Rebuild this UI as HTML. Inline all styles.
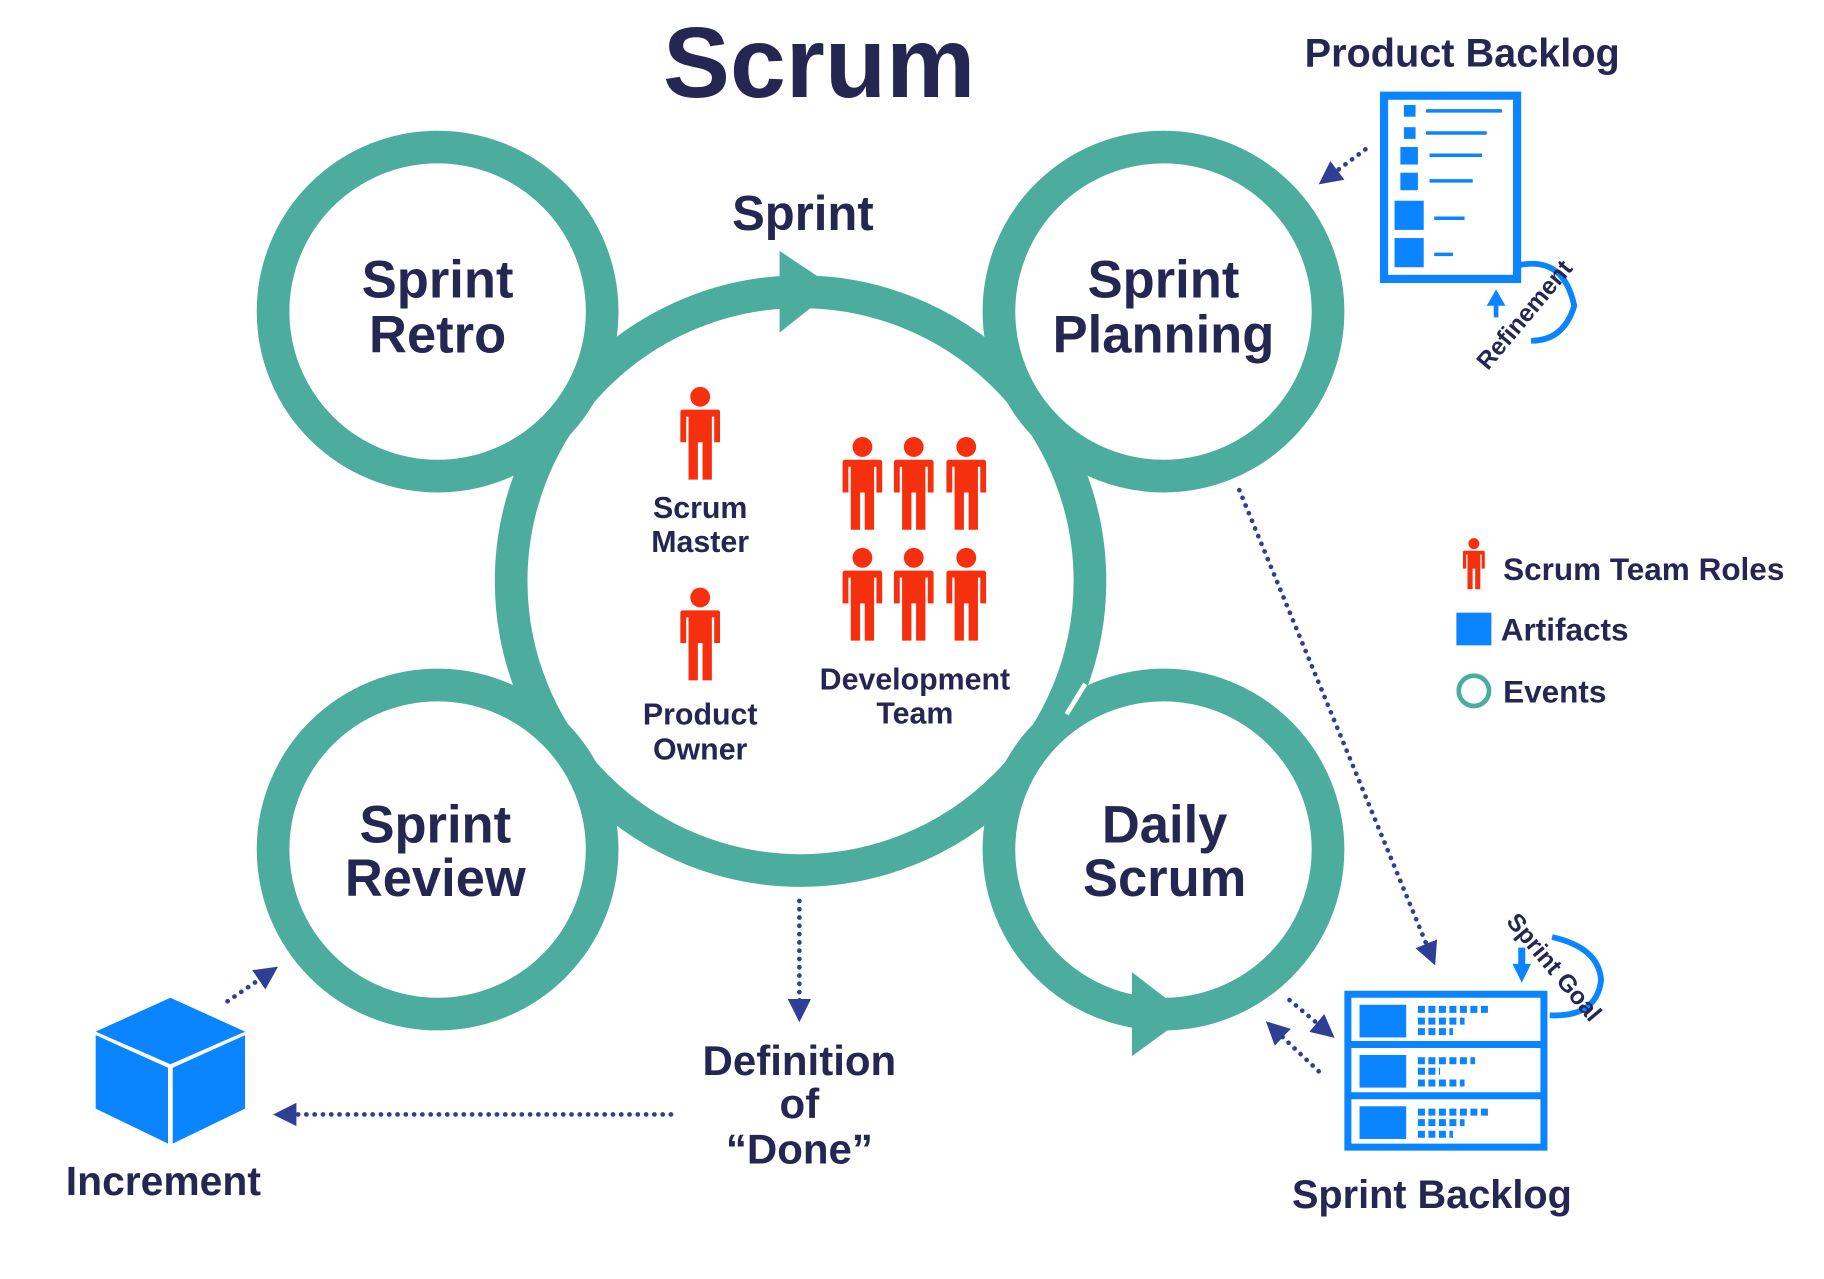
<!DOCTYPE html>
<html><head><meta charset="utf-8"><style>
html,body{margin:0;padding:0;background:#fff;width:1824px;height:1279px;overflow:hidden}
svg{display:block}
text{font-family:"Liberation Sans",sans-serif;font-weight:bold;fill:#262652}
</style></head><body>
<svg width="1824" height="1279" viewBox="0 0 1563 1096" preserveAspectRatio="none" xmlns="http://www.w3.org/2000/svg">
<defs>
<g id="p">
<circle cx="0" cy="-33" r="8.5" fill="#f5300f"/>
<path d="M-15,-22 h30 a2,2 0 0 1 2,2 v26 h-5 v-22 h-2 v54 h-8 v-32 h-4 v32 h-8 v-54 h-2 v22 h-5 v-26 a2,2 0 0 1 2,-2z" fill="#f5300f"/>
</g>
<marker id="ah" viewBox="0 0 10 10" refX="5" refY="5" markerWidth="5" markerHeight="5" orient="auto"><path d="M0,0 L10,5 L0,10z" fill="#2f3f95"/></marker>
</defs>
<!-- central ring -->
<circle cx="686" cy="498" r="248" fill="#fff" stroke="#4cad9e" stroke-width="28"/>
<path d="M668,215 L716,247 L668,285z" fill="#4cad9e"/>
<!-- small rings -->
<circle cx="375" cy="267" r="141" fill="#fff" stroke="#4cad9e" stroke-width="28"/>
<circle cx="997" cy="267" r="141" fill="#fff" stroke="#4cad9e" stroke-width="28"/>
<circle cx="375" cy="728" r="141" fill="#fff" stroke="#4cad9e" stroke-width="28"/>
<circle cx="997" cy="728" r="141" fill="#fff" stroke="#4cad9e" stroke-width="28"/>
<line x1="914" y1="612" x2="930" y2="586" stroke="#fff" stroke-width="4"/>
<path d="M970,833 L1018,870 L970,905z" fill="#4cad9e"/>
<!-- titles -->
<text x="702" y="83" font-size="86" text-anchor="middle">Scrum</text>
<text x="688" y="197" font-size="42" text-anchor="middle">Sprint</text>
<text x="375" y="255" font-size="45" text-anchor="middle">Sprint</text>
<text x="375" y="302" font-size="45" text-anchor="middle">Retro</text>
<text x="997" y="255" font-size="45" text-anchor="middle">Sprint</text>
<text x="997" y="302" font-size="45" text-anchor="middle">Planning</text>
<text x="373" y="722" font-size="45" text-anchor="middle">Sprint</text>
<text x="373" y="768" font-size="45" text-anchor="middle">Review</text>
<text x="998" y="722" font-size="45" text-anchor="middle">Daily</text>
<text x="998" y="768" font-size="45" text-anchor="middle">Scrum</text>
<!-- people -->
<use href="#p" x="600" y="373"/>
<use href="#p" x="600" y="545"/>
<use href="#p" x="739" y="416"/><use href="#p" x="783" y="416"/><use href="#p" x="828" y="416"/>
<use href="#p" x="739" y="511"/><use href="#p" x="783" y="511"/><use href="#p" x="828" y="511"/>
<g font-size="26" text-anchor="middle">
<text x="600" y="444">Scrum</text><text x="600" y="473">Master</text>
<text x="600" y="621">Product</text><text x="600" y="651">Owner</text>
<text x="784" y="591">Development</text><text x="784" y="620">Team</text>
</g>
<!-- product backlog -->
<text x="1253" y="57" font-size="34" text-anchor="middle">Product Backlog</text>
<rect x="1186" y="82" width="114" height="157" fill="#fff" stroke="#0a84ff" stroke-width="7"/>
<g fill="#0a84ff">
<rect x="1203" y="90" width="10" height="10"/><rect x="1203" y="109" width="10" height="10"/>
<rect x="1200" y="126" width="15" height="15"/><rect x="1200" y="148" width="15" height="15"/>
<rect x="1195" y="172" width="25" height="25"/><rect x="1195" y="204" width="25" height="25"/>
</g>
<g stroke="#0a84ff" stroke-width="3">
<line x1="1222" y1="95" x2="1287" y2="95"/><line x1="1222" y1="114" x2="1274" y2="114"/>
<line x1="1225" y1="133" x2="1270" y2="133"/><line x1="1225" y1="155" x2="1262" y2="155"/>
<line x1="1229" y1="187" x2="1255" y2="187"/><line x1="1229" y1="218" x2="1245" y2="218"/>
</g>
<path d="M1303,227 Q1340,220 1349,262 Q1340,292 1312,292" fill="none" stroke="#0a84ff" stroke-width="5"/>
<path d="M1274,262 L1282,248 L1290,262z M1280,260 h4 v12 h-4z" fill="#0a84ff"/>
<text x="0" y="0" font-size="21" transform="translate(1275,318) rotate(-50)">Refinement</text>
<!-- sprint backlog -->
<rect x="1155" y="852" width="168" height="131" fill="#fff" stroke="#0a84ff" stroke-width="6"/>
<line x1="1155" y1="895" x2="1323" y2="895" stroke="#0a84ff" stroke-width="6"/>
<line x1="1155" y1="939" x2="1323" y2="939" stroke="#0a84ff" stroke-width="6"/>
<g fill="#0a84ff">
<rect x="1165" y="861" width="40" height="28"/><rect x="1165" y="904" width="40" height="28"/><rect x="1165" y="948" width="40" height="28"/>
</g>
<g stroke="#0a84ff" stroke-width="6" stroke-dasharray="6,3">
<line x1="1215" y1="865" x2="1276" y2="865"/><line x1="1215" y1="875" x2="1255" y2="875"/><line x1="1215" y1="884" x2="1245" y2="884"/>
<line x1="1215" y1="909" x2="1264" y2="909"/><line x1="1215" y1="918" x2="1234" y2="918"/><line x1="1215" y1="928" x2="1255" y2="928"/>
<line x1="1215" y1="953" x2="1276" y2="953"/><line x1="1215" y1="962" x2="1255" y2="962"/><line x1="1215" y1="972" x2="1245" y2="972"/>
</g>
<path d="M1330,803 Q1370,812 1372,840 Q1368,872 1328,870" fill="none" stroke="#0a84ff" stroke-width="5"/>
<path d="M1296,826 L1312,826 L1304,842z M1301,812 h6 v16 h-6z" fill="#0a84ff"/>
<text x="0" y="0" font-size="21" transform="translate(1290,790) rotate(50)">Sprint Goal</text>
<text x="1227" y="1035" font-size="34" text-anchor="middle">Sprint Backlog</text>
<!-- legend -->
<g transform="translate(1263,484) scale(0.55)"><use href="#p"/></g>
<text x="1288" y="497" font-size="27">Scrum Team Roles</text>
<rect x="1248" y="525" width="30" height="28" fill="#0a84ff"/>
<text x="1286" y="549" font-size="27">Artifacts</text>
<circle cx="1263" cy="592" r="13" fill="none" stroke="#4cad9e" stroke-width="4"/>
<text x="1288" y="602" font-size="27">Events</text>
<!-- increment cube -->
<path d="M146,855 L210,884 L146,912 L82,884z" fill="#0a84ff"/>
<path d="M82,887 L144,915 L144,980 L82,950z" fill="#0a84ff"/>
<path d="M148,915 L210,887 L210,950 L148,980z" fill="#0a84ff"/>
<text x="140" y="1024" font-size="35" text-anchor="middle">Increment</text>
<text x="685" y="921" font-size="36" text-anchor="middle">Definition</text>
<text x="685" y="958" font-size="36" text-anchor="middle">of</text>
<text x="685" y="997" font-size="36" text-anchor="middle">“Done”</text>
<!-- dotted connectors -->
<g stroke="#2f3f95" stroke-width="4" stroke-linecap="round" stroke-dasharray="0.1,7" fill="none" marker-end="url(#ah)">
<line x1="1170" y1="128" x2="1138" y2="152"/>
<line x1="1062" y1="420" x2="1226" y2="818"/>
<line x1="685" y1="772" x2="685" y2="866"/>
<line x1="575" y1="955" x2="244" y2="955"/>
<line x1="195" y1="858" x2="230" y2="834"/>
<line x1="1105" y1="857" x2="1136" y2="883"/>
<line x1="1130" y1="918" x2="1092" y2="882"/>
</g>
</svg>
</body></html>
